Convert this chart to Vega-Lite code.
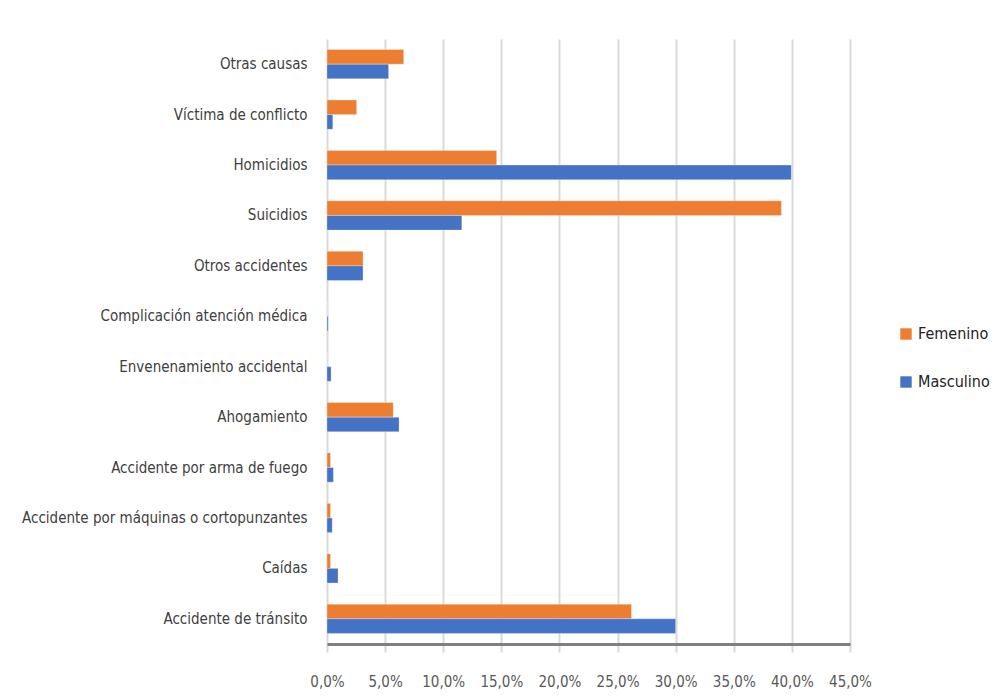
{
  "$schema": "https://vega.github.io/schema/vega-lite/v6.json",
  "autosize": "none",
  "width": 523,
  "height": 605,
  "padding": {"left": 327, "top": 39, "right": 145, "bottom": 54},
  "background": "white",
  "config": {
    "view": {"stroke": null},
    "locale": {"number": {"decimal": ",", "thousands": ".", "grouping": [3], "currency": ["", " €"]}},
    "font": "DejaVu Sans Condensed"
  },
  "data": {
    "values": [
      {"causa": "Otras causas", "sexo": "Femenino", "valor": 0.066},
      {"causa": "Otras causas", "sexo": "Masculino", "valor": 0.053},
      {"causa": "Víctima de conflicto", "sexo": "Femenino", "valor": 0.0255},
      {"causa": "Víctima de conflicto", "sexo": "Masculino", "valor": 0.005},
      {"causa": "Homicidios", "sexo": "Femenino", "valor": 0.146},
      {"causa": "Homicidios", "sexo": "Masculino", "valor": 0.3995},
      {"causa": "Suicidios", "sexo": "Femenino", "valor": 0.391},
      {"causa": "Suicidios", "sexo": "Masculino", "valor": 0.116},
      {"causa": "Otros accidentes", "sexo": "Femenino", "valor": 0.031},
      {"causa": "Otros accidentes", "sexo": "Masculino", "valor": 0.031},
      {"causa": "Complicación atención médica", "sexo": "Femenino", "valor": 0.0},
      {"causa": "Complicación atención médica", "sexo": "Masculino", "valor": 0.001},
      {"causa": "Envenenamiento accidental", "sexo": "Femenino", "valor": 0.0},
      {"causa": "Envenenamiento accidental", "sexo": "Masculino", "valor": 0.0035},
      {"causa": "Ahogamiento", "sexo": "Femenino", "valor": 0.057},
      {"causa": "Ahogamiento", "sexo": "Masculino", "valor": 0.062},
      {"causa": "Accidente por arma de fuego", "sexo": "Femenino", "valor": 0.003},
      {"causa": "Accidente por arma de fuego", "sexo": "Masculino", "valor": 0.0055},
      {"causa": "Accidente por máquinas o cortopunzantes", "sexo": "Femenino", "valor": 0.003},
      {"causa": "Accidente por máquinas o cortopunzantes", "sexo": "Masculino", "valor": 0.0045},
      {"causa": "Caídas", "sexo": "Femenino", "valor": 0.003},
      {"causa": "Caídas", "sexo": "Masculino", "valor": 0.0095},
      {"causa": "Accidente de tránsito", "sexo": "Femenino", "valor": 0.262},
      {"causa": "Accidente de tránsito", "sexo": "Masculino", "valor": 0.300}
    ]
  },
  "mark": {"type": "bar", "stroke": "white", "strokeWidth": 0.5, "strokeOpacity": 0.6},
  "encoding": {
    "y": {
      "field": "causa", "type": "nominal", "sort": null,
      "scale": {"paddingInner": 0.42, "paddingOuter": 0.21},
      "axis": {
        "title": null, "domain": false, "ticks": false, "grid": false,
        "labelFontSize": 15, "labelColor": "#404040", "labelPadding": 20, "labelLimit": 400,
        "labelFont": "DejaVu Sans Condensed"
      }
    },
    "yOffset": {"field": "sexo", "type": "nominal", "sort": ["Femenino", "Masculino"], "scale": {"paddingInner": 0}},
    "x": {
      "field": "valor", "type": "quantitative",
      "scale": {"domain": [0, 0.45], "nice": false},
      "axis": {
        "title": null, "format": ".1%", "values": [0, 0.05, 0.1, 0.15, 0.2, 0.25, 0.3, 0.35, 0.4, 0.45],
        "labelOverlap": false, "labelFlush": false,
        "domainColor": "#7f7f7f", "domainWidth": 3,
        "ticks": true, "tickColor": "#d9d9d9", "tickWidth": 2, "tickSize": 8,
        "gridColor": "#d9d9d9", "gridWidth": 2,
        "labelFontSize": 15, "labelColor": "#595959", "labelPadding": 22, "labelFont": "DejaVu Sans Condensed"
      }
    },
    "color": {
      "field": "sexo", "type": "nominal",
      "scale": {"domain": ["Femenino", "Masculino"], "range": ["#ed7d31", "#4472c4"]},
      "legend": {
        "title": null, "orient": "none", "legendX": 571, "legendY": 287, "symbolType": "square", "symbolSize": 130,
        "symbolStrokeWidth": 0, "labelFontSize": 16, "labelColor": "#222222", "rowPadding": 32,
        "padding": 0, "labelFont": "DejaVu Sans Condensed", "labelOffset": 4
      }
    }
  }
}
